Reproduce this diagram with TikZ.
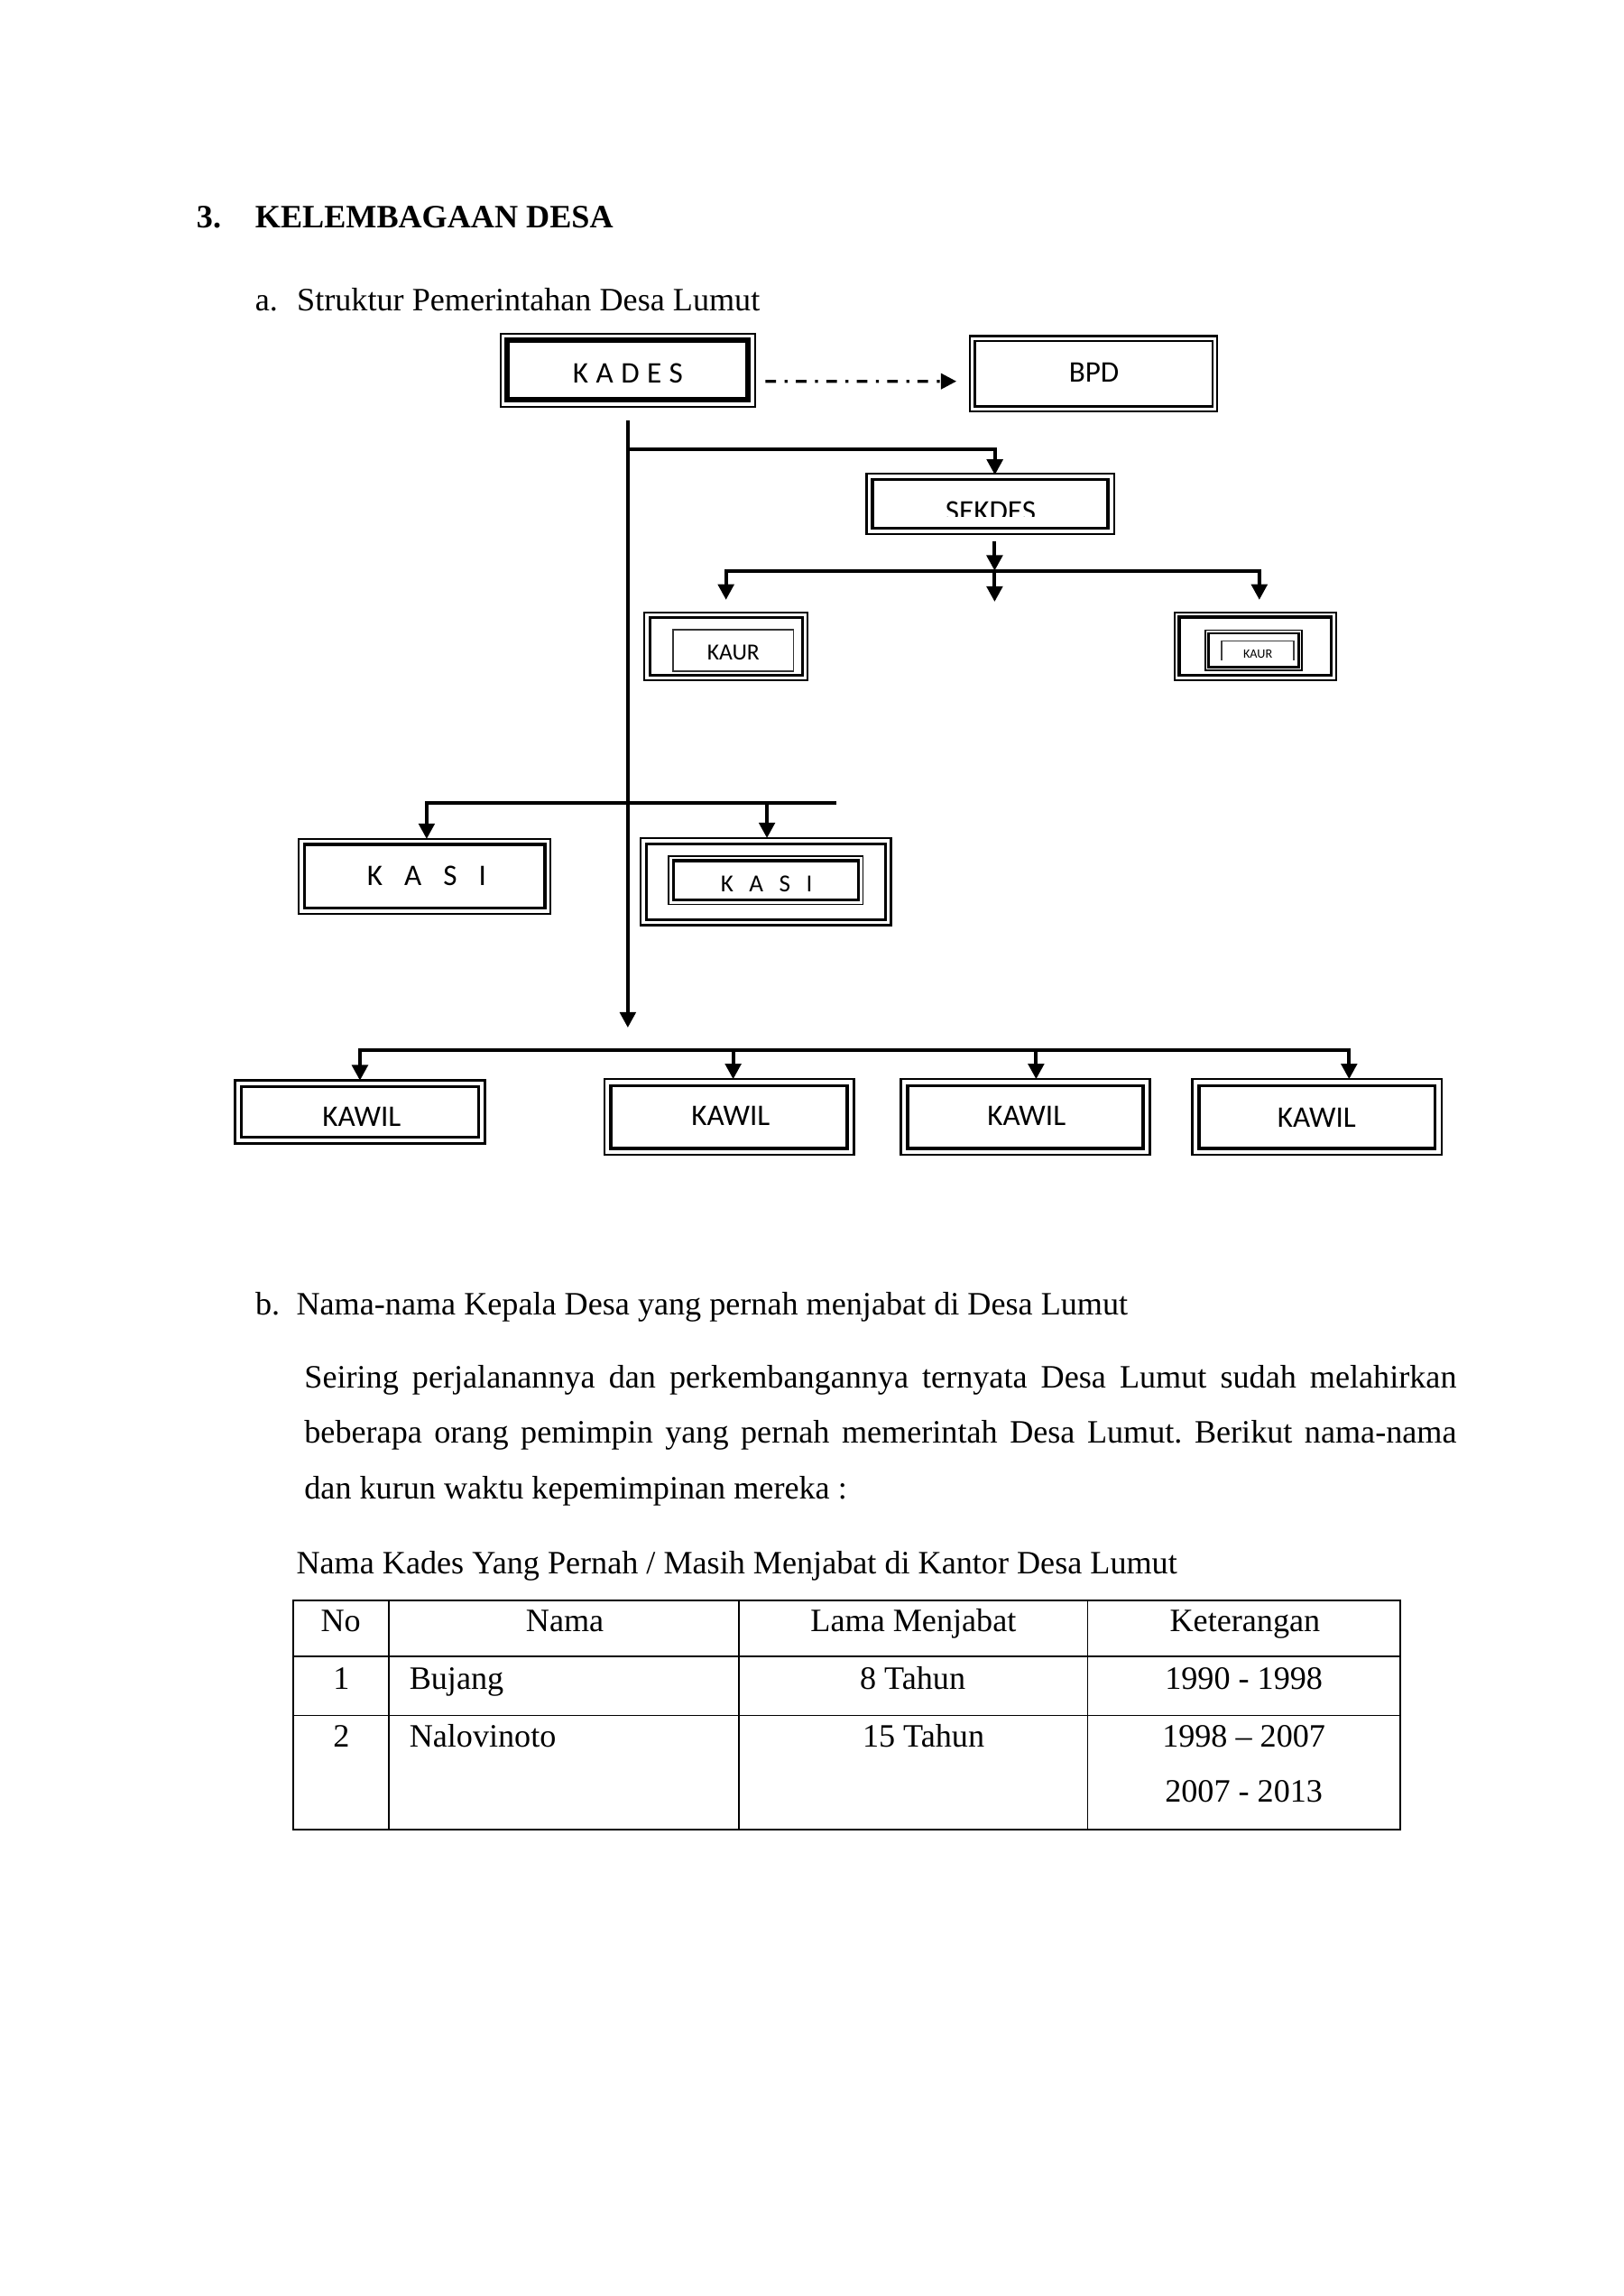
\documentclass[tikz,border=0pt]{standalone}
\usepackage{fontspec}
\setmainfont{Liberation Serif}
\newfontfamily\boxfont{Carlito}
\usetikzlibrary{arrows.meta,fit}
\newcommand\inrect[3][line width=1.1pt]{\draw[#1] ([shift={(#3,#3)}]#2.north west) rectangle ([shift={(-#3,-#3)}]#2.south east);}
\begin{document}
\begin{tikzpicture}[x=0.190909mm,y=-0.190909mm,
  txt/.style={inner sep=0pt, outer sep=0pt, font=\fontsize{12}{14}\selectfont\frenchspacing},
  obox/.style={draw, inner sep=0pt, outer sep=0pt, line width=0.7pt},
  blab/.style={anchor=base, inner sep=0pt, outer sep=0pt, font=\boxfont\fontsize{11}{13}\selectfont},
  ln/.style={line width=1.3pt, line cap=rect},
  arr/.style={line width=1.3pt, -{Triangle[length=5.7pt,width=5.8pt]}},
  tline/.style={line width=0.6pt},
]
\fill[white] (0,0) rectangle (1100,1555.3);

% ---------- headings ----------
\node[txt, anchor=base west] (n3) at (133.2,154.4) {\bfseries 3.};
\node[txt, anchor=base west] (head) at (172.9,154.4) {\bfseries KELEMBAGAAN DESA};
\node[txt, anchor=base west] (la) at (172.9,210.8) {a.};
\node[txt, anchor=base west] (ta) at (201.2,210.8) {Struktur Pemerintahan Desa Lumut};

% ---------- KADES / BPD ----------
\node[obox, line width=0.6pt, fit={(339,226) (511.5,275.4)}] (kades) {};
\inrect[line width=2pt]{kades}{4.6}
\node[blab] (kadestext) at (425.3,259.4) {\spaceskip=2.8pt K A D E S};
\node[obox, line width=0.75pt, fit={(657,227.7) (824.5,278.5)}] (bpd) {};
\inrect[line width=0.8pt]{bpd}{3.3}
\node[blab] (bpdtext) at (741,259) {BPD};
\draw[line width=1.1pt, dash pattern=on 3.9pt off 3.2pt on 1.1pt off 3pt, -{Triangle[length=5.7pt,width=5.7pt]}]
  ([shift={(6.9,7.6)}]kades.east) -- ([shift={(-9.2,5.2)}]bpd.west);

% ---------- SEKDES ----------
\node[obox, fit={(587,320.7) (754.5,361.6)}] (sekdes) {};
\inrect{sekdes}{4}
\begin{scope}
\clip (600,330) rectangle (740,349.7);
\node[blab] (sekdestext) at (671,352.9) {SEKDES};
\end{scope}

% ---------- KAUR ----------
\node[obox, fit={(436.6,414.7) (546.9,461)}] (kaurL) {};
\inrect{kaurL}{3.5}
\node[draw, inner sep=0pt, outer sep=0pt, line width=0.5pt, draw=black!80, fit={(455.9,426.7) (537.5,454.8)}] (kaurLin) {};
\node[blab, font=\boxfont\fontsize{8.5}{10}\selectfont] (kaurLtext) at (496.7,447) {KAUR};

\node[obox, fit={(795.5,414.8) (905,460.8)}] (kaurR) {};
\inrect{kaurR}{3.2}
\node[draw, inner sep=0pt, outer sep=0pt, line width=0.5pt, fit={(816.3,426.9) (881.9,454.2)}] (kaurRin) {};
\inrect[line width=0.9pt]{kaurRin}{2.1}
\draw[line width=0.5pt, black!75] (827.5,447.1) |- (876.2,434.2) -- (876.2,447.1);
\node[blab, font=\boxfont\fontsize{4.7}{5.5}\selectfont] (kaurRtext) at (852,445.7) {KAUR};

% ---------- KASI ----------
\node[obox, fit={(202.5,568.3) (372.8,618.8)}] (kasiL) {};
\inrect{kasiL}{3.7}
\node[blab] (kasiLtext) at (289,600.1) {\spaceskip=8pt K A S I};
\node[obox, fit={(434,567.7) (603.5,626.7)}] (kasiR) {};
\inrect{kasiR}{3.8}
\node[draw, inner sep=0pt, outer sep=0pt, line width=0.6pt, fit={(453,579.9) (584.5,612.7)}] (kasiRin) {};
\inrect{kasiRin}{3.1}
\node[blab, font=\boxfont\fontsize{9}{11}\selectfont] (kasiRtext) at (519.2,604.1) {\spaceskip=5.8pt K A S I};

% ---------- KAWIL ----------
\node[obox, line width=0.8pt, fit={(159.2,731.9) (328.5,774.7)}] (kawil1) {};
\inrect[line width=1.2pt]{kawil1}{4.3}
\node[blab] (kawil1text) at (245,763.1) {KAWIL};
\node[obox, line width=0.8pt, fit={(409.3,731) (578.5,782.3)}] (kawil2) {};
\inrect[line width=1.2pt]{kawil2}{4.5}
\node[blab] (kawil2text) at (494.9,762.5) {KAWIL};
\node[obox, line width=0.8pt, fit={(610.1,731) (778.8,782.3)}] (kawil3) {};
\inrect[line width=1.2pt]{kawil3}{4.5}
\node[blab] (kawil3text) at (695.3,762.5) {KAWIL};
\node[obox, line width=0.8pt, fit={(807.7,731) (976.4,782.3)}] (kawil4) {};
\inrect[line width=1.2pt]{kawil4}{4.5}
\node[blab] (kawil4text) at (891.8,763.3) {KAWIL};

% ---------- connectors ----------
\coordinate (mbot) at (425.25,696.1);
\draw[arr] ([shift={(0,9.4)}]kades.south) -- (mbot);

\coordinate (jS) at (425.25,304.1);
\draw[arr] (jS) -| ([shift={(3.1,1)}]sekdes.north);

\coordinate (kbar) at (673.7,386.6);
\coordinate (kbL) at (491.75,386.6);
\coordinate (kbR) at (853,386.6);
\coordinate (kmid) at (673.7,407.6);
\draw[arr] ([shift={(2.95,5)}]sekdes.south) -- (kbar);
\draw[ln] (kbL) -- (kbR);
\draw[arr] (kbL) -- ([shift={(0,-8.4)}]kaurL.north);
\draw[arr] (kbR) -- ([shift={(2.75,-8.5)}]kaurR.north);
\draw[arr] (kbar) -- (kmid);

\coordinate (kaL) at (289,543.8);
\coordinate (kaM) at (519.5,543.8);
\coordinate (kaR) at (565.4,543.8);
\draw[ln] (kaL) -- (kaR);
\draw[arr] (kaL) -- (kaL |- kasiL.north);
\draw[arr] (kaM) -- (kaM |- kasiR.north);

\coordinate (w1) at (243.8,711.5);
\coordinate (w2) at (496.6,711.5);
\coordinate (w3) at (701.8,711.5);
\coordinate (w4) at (913.8,711.5);
\draw[ln] (w1) -- (w4);
\draw[arr] (w1) -- (w1 |- kawil1.north);
\draw[arr] (w2) -- (w2 |- kawil2.north);
\draw[arr] (w3) -- (w3 |- kawil3.north);
\draw[arr] (w4) -- (w4 |- kawil4.north);

% ---------- section b ----------
\node[txt, anchor=base west] (lb) at (173,891) {b.};
\node[txt, anchor=base west] (tb) at (200.8,891) {Nama-nama Kepala Desa yang pernah menjabat di Desa Lumut};
\node[txt, anchor=base west] (p1) at (206.2,940) {\makebox[423.9pt][s]{Seiring perjalanannya dan perkembangannya ternyata Desa Lumut sudah melahirkan}};
\node[txt, anchor=base west] (p2) at (206.2,977.6) {\makebox[423.9pt][s]{beberapa orang pemimpin yang pernah memerintah Desa Lumut. Berikut nama-nama}};
\node[txt, anchor=base west] (p3) at (206.2,1015.3) {dan kurun waktu kepemimpinan mereka :};
\node[txt, anchor=base west] (cap) at (200.8,1066.3) {Nama Kades Yang Pernah / Masih Menjabat di Kantor Desa Lumut};

% ---------- table ----------
\draw[tline] (198.6,1084.3) rectangle (948.4,1239.3);
\draw[tline] (198.6,1122.2) -- (948.4,1122.2);
\draw[tline] (198.6,1162) -- (948.4,1162);
\draw[tline] (263.5,1084.3) -- (263.5,1239.3);
\draw[tline] (500.6,1084.3) -- (500.6,1239.3);
\draw[tline] (736.7,1084.3) -- (736.7,1239.3);

\node[txt, anchor=base] (h1) at (230.8,1104.9) {No};
\node[txt, anchor=base] (h2) at (382.6,1104.9) {Nama};
\node[txt, anchor=base] (h3) at (618.7,1104.9) {Lama Menjabat};
\node[txt, anchor=base] (h4) at (843.3,1104.9) {Keterangan};

\node[txt, anchor=base] (r1a) at (231.2,1144.2) {1};
\node[txt, anchor=base west] (r1b) at (277.3,1144.2) {Bujang};
\node[txt, anchor=base] (r1c) at (618.2,1144.2) {8 Tahun};
\node[txt, anchor=base] (r1d) at (842.5,1144.2) {1990 - 1998};

\node[txt, anchor=base] (r2a) at (231.2,1183.3) {2};
\node[txt, anchor=base west] (r2b) at (277.3,1183.3) {Nalovinoto};
\node[txt, anchor=base] (r2c) at (625.5,1183.3) {15 Tahun};
\node[txt, anchor=base] (r2d) at (842.5,1183.3) {1998 – 2007};
\node[txt, anchor=base] (r2e) at (842.5,1220.6) {2007 - 2013};
\end{tikzpicture}
\end{document}
